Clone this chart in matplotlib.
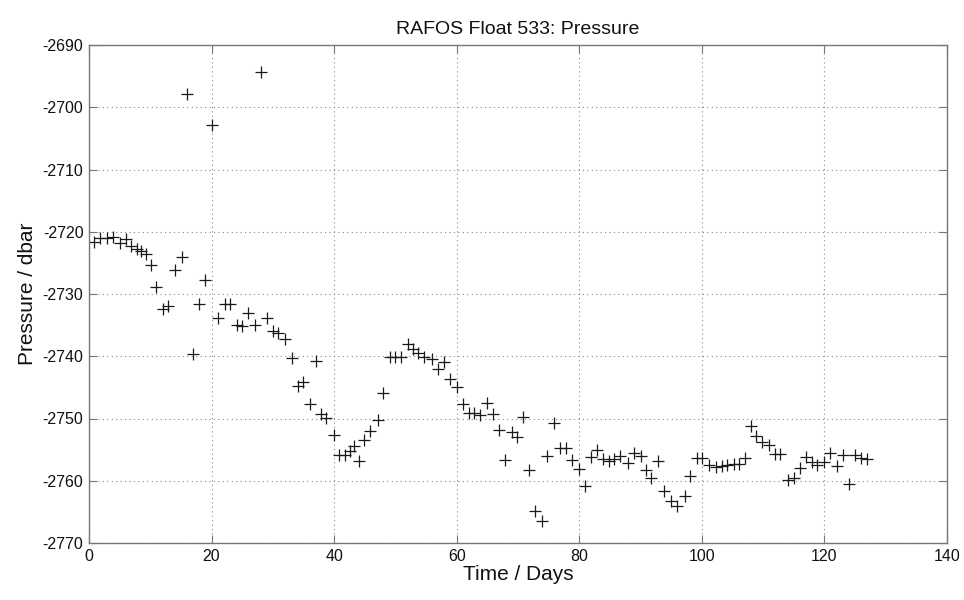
import matplotlib.pyplot as plt
import numpy as np

plt.rcParams['font.family'] = ['Liberation Sans', 'DejaVu Sans']
plt.rcParams['axes.unicode_minus'] = False

# time in days and pressure in dbar
days = [0.9, 1.8, 3.0, 4.0, 5.0, 6.0, 6.9, 7.8, 8.5, 9.3,
        10.1, 11.0, 12.1, 12.9, 14.0, 15.1, 16.0, 17.0, 18.0, 19.0,
        20.1, 21.0, 22.2, 23.0, 24.1, 24.9, 26.0, 27.1, 28.1, 29.0,
        30.1, 30.9, 32.0, 33.1, 34.1, 35.0, 36.0, 37.1, 37.9, 38.7,
        40.0, 40.8, 41.7, 42.6, 43.3, 44.0, 44.9, 45.8, 47.1, 48.0,
        49.1, 50.0, 50.9, 52.1, 52.9, 53.7, 54.6, 55.9, 57.0, 58.0,
        58.9, 60.0, 61.1, 62.0, 62.9, 63.8, 64.9, 66.0, 66.9, 67.9,
        69.0, 69.9, 70.9, 71.8, 72.8, 73.9, 74.8, 75.8, 76.9, 77.8,
        78.9, 80.0, 80.9, 81.9, 82.9, 83.8, 84.8, 85.7, 86.7, 87.9,
        89.0, 90.0, 90.9, 91.7, 92.9, 93.9, 94.9, 96.0, 97.2, 98.1,
        99.2, 100.1, 101.1, 102.3, 103.3, 104.1, 105.3, 106.0, 107.0, 108.1,
        108.8, 109.9, 111.0, 112.0, 112.8, 114.1, 115.0, 116.1, 117.0, 118.0,
        118.8, 119.9, 121.0, 122.1, 123.0, 124.0, 125.0, 126.0, 127.0]

pressure = [-2721.6, -2721.0, -2721.0, -2720.8, -2721.8, -2721.1, -2722.3, -2722.7, -2723.1, -2723.5,
            -2725.4, -2728.9, -2732.4, -2732.0, -2726.1, -2724.0, -2697.9, -2739.6, -2731.6, -2727.7,
            -2702.9, -2733.9, -2731.6, -2731.6, -2734.9, -2735.2, -2733.1, -2734.9, -2694.4, -2733.9,
            -2735.9, -2736.2, -2737.2, -2740.3, -2744.7, -2744.1, -2747.6, -2740.7, -2749.2, -2749.9,
            -2752.6, -2755.9, -2755.9, -2755.2, -2754.4, -2756.8, -2753.4, -2752.0, -2750.3, -2745.9,
            -2740.2, -2740.2, -2740.2, -2738.1, -2738.9, -2739.5, -2740.1, -2740.4, -2742.1, -2740.9,
            -2743.7, -2745.0, -2747.6, -2749.1, -2749.1, -2749.4, -2747.5, -2749.2, -2751.8, -2756.7,
            -2752.2, -2752.9, -2749.8, -2758.3, -2764.9, -2766.5, -2756.0, -2750.7, -2754.8, -2754.8,
            -2756.7, -2758.1, -2760.9, -2756.2, -2755.0, -2756.5, -2756.9, -2756.5, -2756.0, -2757.2,
            -2755.6, -2756.0, -2758.3, -2759.6, -2756.9, -2761.6, -2763.2, -2764.0, -2762.4, -2759.3,
            -2756.4, -2756.4, -2757.5, -2757.8, -2757.6, -2757.5, -2757.3, -2757.3, -2756.4, -2751.2,
            -2752.8, -2753.7, -2754.2, -2755.7, -2755.7, -2759.8, -2759.5, -2758.0, -2756.2, -2757.0,
            -2757.5, -2757.0, -2755.5, -2757.6, -2755.8, -2760.5, -2755.8, -2756.4, -2756.5]

fig = plt.figure(figsize=(9.64, 6.0), dpi=100)
ax = fig.add_axes([0.0923, 0.095, 0.890, 0.830])

ax.plot(days, pressure, '+', color='#1a1a1a', markersize=9, markeredgewidth=0.9)

ax.set_xlim(0, 140)
ax.set_ylim(-2770, -2690)
ax.set_xticks(np.arange(0, 141, 20))
ax.set_yticks(np.arange(-2770, -2689, 10))

ax.grid(True, linestyle=(0, (1, 3)), color='#888888', linewidth=0.8)
for s in ax.spines.values():
    s.set_color('#777777')
    s.set_linewidth(1.0)
ax.tick_params(direction='in', top=True, right=True, length=6, width=0.8,
               color='#777777', labelsize=11.5, labelcolor='#111111', pad=4)

ax.set_title('RAFOS Float 533: Pressure', fontsize=14, color='#111111', pad=8)
ax.set_xlabel('Time / Days', fontsize=15, color='#111111', labelpad=1)
ax.set_ylabel('Pressure / dbar', fontsize=15, color='#111111', labelpad=4)

fig.savefig('out.png', dpi=100)
